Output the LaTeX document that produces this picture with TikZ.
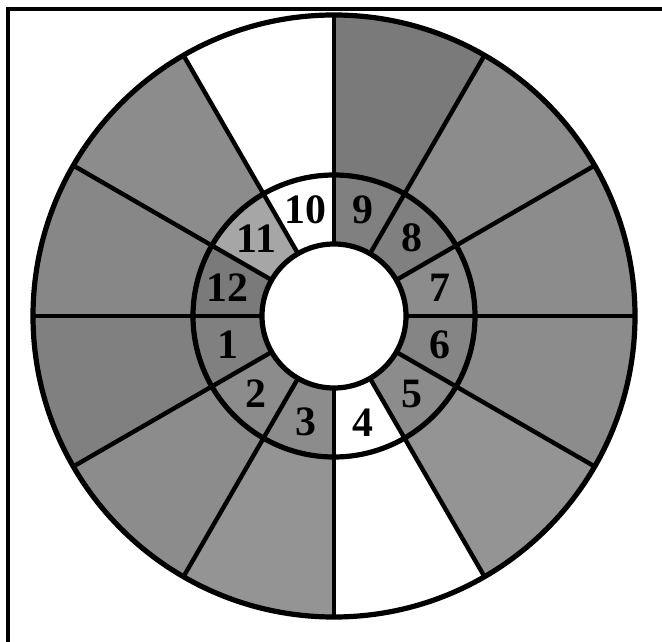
\documentclass[tikz,border=0pt]{standalone}
\usepackage{fontspec}
\setmainfont{Liberation Serif}
\begin{document}
\begin{tikzpicture}[x=0.5bp,y=0.5bp,
  ringline/.style={line width=2.6bp},
  spokeline/.style={line width=2.2bp},
  framelinestyle/.style={line width=1.8bp},
  numlabel/.style={font=\fontsize{21}{21}\selectfont\bfseries, inner sep=0pt}]
\useasboundingbox (-334,-326) rectangle (328,316);
\fill[white] (-334,-326) rectangle (328,316);
% frame (top and left edges)
\draw[framelinestyle] (-326,-326) -- (-326,307) -- (328,307);
% outer ring sectors
\foreach \k/\oc in {0/45,1/45,2/52,3/0,4/45,5/47,6/50,7/45,8/42,9/0,10/42,11/45}
  \fill[black!\oc] ({30*\k}:141) arc[start angle={30*\k}, end angle={30*\k+30}, radius=141]
     -- ({30*\k+30}:301) arc[start angle={30*\k+30}, end angle={30*\k}, radius=301] -- cycle;
% middle ring sectors
\foreach \k/\mc in {0/45,1/50,2/50,3/0,4/35,5/52,6/50,7/45,8/45,9/0,10/45,11/48}
  \fill[black!\mc] ({30*\k}:72) arc[start angle={30*\k}, end angle={30*\k+30}, radius=72]
     -- ({30*\k+30}:141) arc[start angle={30*\k+30}, end angle={30*\k}, radius=141] -- cycle;
% spokes
\foreach \a in {0,30,...,330}
  \draw[spokeline] (\a:72) -- (\a:301);
% circles
\draw[ringline] (0,0) circle[radius=301];
\draw[ringline] (0,0) circle[radius=141];
\draw[ringline, fill=white] (0,0) circle[radius=72];
% labels
\foreach \n in {1,...,12}
  \node[numlabel] (l\n) at ({165+30*\n}:110) {\n};
\end{tikzpicture}
\end{document}
